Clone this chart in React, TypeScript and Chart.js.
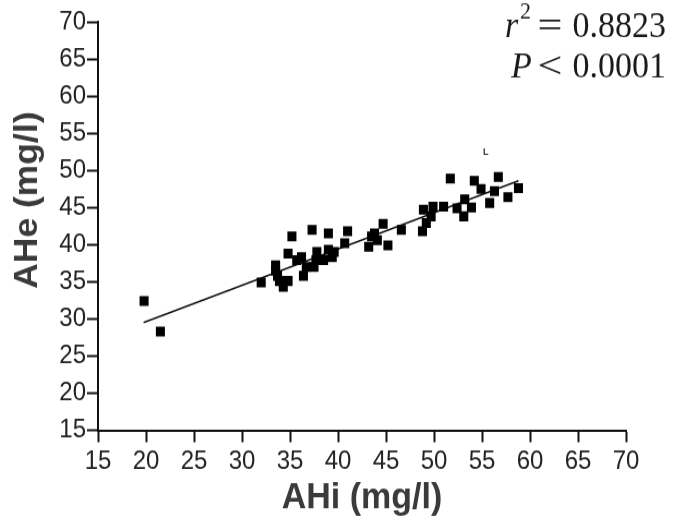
import React, { useEffect, useRef } from "react";
import { Chart, registerables } from "chart.js";

Chart.register(...registerables);

const ahi = [19.8, 21.5, 32.0, 33.5, 33.5, 33.7, 33.9, 34.3, 34.8, 35.2, 34.8, 35.7, 36.2, 36.4, 36.7, 37.3, 37.5, 37.7, 37.8, 38.5, 39.0, 39.0, 39.4, 39.6, 40.7, 41.0, 43.2, 43.5, 43.8, 44.1, 44.7, 45.2, 46.6, 48.8, 48.9, 49.2, 49.7, 49.9, 51.0, 51.7, 52.4, 53.1, 53.2, 53.9, 54.2, 54.9, 55.8, 56.3, 56.7, 57.7, 58.8];
const ahe = [32.4, 28.3, 34.9, 37.2, 36.5, 35.8, 35.1, 34.3, 35.1, 41.1, 38.8, 37.9, 38.3, 35.8, 37.0, 42.0, 37.0, 37.9, 39.0, 37.9, 41.5, 39.3, 38.3, 39.0, 40.2, 41.8, 39.7, 41.1, 41.5, 40.6, 42.8, 39.9, 42.0, 41.8, 44.7, 42.9, 43.8, 45.1, 45.1, 48.9, 44.9, 43.8, 46.1, 45.0, 48.6, 47.5, 45.6, 47.2, 49.1, 46.4, 47.6];
const fitX = [19.75, 58.8];
const fitY = [29.5, 48.6];
const ticks = [15, 20, 25, 30, 35, 40, 45, 50, 55, 60, 65, 70];
const xTitle = "AHi (mg/l)";
const yTitle = "AHe (mg/l)";
const stat1Symbol = "r";
const stat1Op = "=";
const stat1Value = "0.8823";
const stat2Symbol = "P";
const stat2Op = "<";
const stat2Value = "0.0001";
const markerLabel = { x: 55.4, y: 52.5, text: "L" };

const W = 685;
const H = 486;
const STRETCH = 530 / H;
const sans = "'Liberation Sans', Arial, sans-serif";
const serif = "'Liberation Serif', 'Times New Roman', serif";

const annotPlugin = {
  id: "annot",
  afterDraw(chart: any) {
    const ctx = chart.ctx;
    ctx.save();
    // axis titles
    ctx.fillStyle = "#3a3a3a";
    ctx.textAlign = "center";
    ctx.textBaseline = "middle";
    const area = chart.chartArea;
    ctx.font = `bold 34px ${sans}`;
    ctx.fillText(xTitle, (area.left + area.right) / 2, 457);
    ctx.save();
    ctx.translate(28, 183.5);
    ctx.rotate(-Math.PI / 2);
    ctx.font = `bold 32.5px ${sans}`;
    ctx.fillText(yTitle, 0, 0);
    ctx.restore();

    // stats
    ctx.fillStyle = "#1a1a1a";
    ctx.textBaseline = "alphabetic";
    const right = 666;
    const b1 = 34;
    const b2 = 70.5;
    ctx.font = `34px ${serif}`;
    ctx.textAlign = "right";
    ctx.fillText(stat1Value, right, b1);
    ctx.fillText(stat2Value, right, b2);
    ctx.textAlign = "center";
    ctx.save();
    ctx.translate(550, 0);
    ctx.scale(1.3, 1);
    ctx.fillText(stat1Op, 0, b1);
    ctx.fillText(stat2Op, 0, b2);
    ctx.restore();
    ctx.textAlign = "left";
    ctx.font = `italic 34px ${serif}`;
    ctx.fillText(stat1Symbol, 505, b1);
    ctx.fillText(stat2Symbol, 511, b2);
    ctx.font = `22px ${serif}`;
    ctx.fillText("2", 520, 16.5);

    // small stray mark
    const sx = chart.scales.x.getPixelForValue(markerLabel.x);
    const sy = chart.scales.y.getPixelForValue(markerLabel.y);
    ctx.font = `bold 9px ${sans}`;
    ctx.textAlign = "center";
    ctx.textBaseline = "middle";
    ctx.fillStyle = "#333";
    ctx.fillText(markerLabel.text, sx, sy);
    ctx.restore();
  },
};

export default function App() {
  const ref = useRef<HTMLCanvasElement>(null);
  useEffect(() => {
    document.body.style.margin = "0";
    const points = ahi.map((x, i) => ({ x, y: ahe[i] }));
    const fit = fitX.map((x, i) => ({ x, y: fitY[i] }));
    const chart = new Chart(ref.current!, {
      type: "scatter",
      data: {
        datasets: [
          {
            data: points,
            pointStyle: "rect",
            pointRadius: 6.4,
            backgroundColor: "#000",
            borderColor: "#000",
            borderWidth: 0,
          },
          {
            type: "line",
            data: fit,
            borderColor: "#111",
            borderWidth: 1.6,
            pointRadius: 0,
            fill: false,
          } as any,
        ],
      },
      options: {
        animation: false,
        responsive: false,
        maintainAspectRatio: false,
        devicePixelRatio: 1,
        layout: { padding: { top: 20, right: 59, left: 0, bottom: 0 } },
        plugins: { legend: { display: false }, tooltip: { enabled: false } },
        scales: {
          x: {
            type: "linear",
            min: 15,
            max: 70,
            afterBuildTicks: (s: any) => {
              s.ticks = ticks.map((v) => ({ value: v }));
            },
            afterFit: (s: any) => {
              s.height = 91.5;
            },
            grid: { display: true, drawOnChartArea: false, drawTicks: true, tickLength: 11, tickWidth: 2, color: "#111" },
            border: { display: true, width: 2, color: "#111" },
            ticks: { color: "#222", font: { family: sans, size: 24 }, padding: 3, maxRotation: 0, autoSkip: false },
          },
          y: {
            type: "linear",
            min: 15,
            max: 70,
            afterBuildTicks: (s: any) => {
              s.ticks = ticks.map((v) => ({ value: v }));
            },
            afterFit: (s: any) => {
              s.width = 98;
            },
            grid: { display: true, drawOnChartArea: false, drawTicks: true, tickLength: 11, tickWidth: 2, color: "#111" },
            border: { display: true, width: 2, color: "#111" },
            ticks: { color: "#222", font: { family: sans, size: 24 }, padding: 1, autoSkip: false },
          },
        },
      },
      plugins: [annotPlugin],
    });
    return () => chart.destroy();
  }, []);
  return (
    <div style={{ width: W, height: 530, overflow: "hidden" }}>
      <div style={{ width: W, height: H, transform: `scaleY(${STRETCH})`, transformOrigin: "0 0" }}>
        <canvas ref={ref} width={W} height={H} style={{ display: "block", width: W, height: H }} />
      </div>
    </div>
  );
}
